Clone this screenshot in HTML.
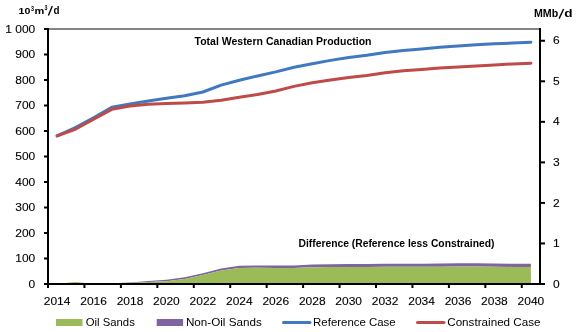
<!DOCTYPE html>
<html><head><meta charset="utf-8"><style>
html,body{margin:0;padding:0;background:#fff;width:580px;height:332px;overflow:hidden}
svg{display:block;will-change:transform}
text{font-family:"Liberation Sans", sans-serif;fill:#000}
.ax{font-size:12px;stroke:#000;stroke-width:0.12px}
.lg{font-size:12px}
.ut{font-size:10px;font-weight:bold}
.sup{font-size:7px;font-weight:bold}
.ut2{font-size:9.8px;font-weight:bold}
.tt{font-size:10.3px;font-weight:bold}
</style></head><body>
<svg width="580" height="332" viewBox="0 0 580 332">
<polygon points="57.11,284.00 75.33,281.96 93.56,283.75 111.78,283.24 130.00,282.47 148.22,280.94 166.44,279.67 184.67,277.37 202.89,273.29 221.11,268.44 239.33,265.64 257.56,265.38 275.78,265.38 294.00,265.38 312.22,264.62 330.44,264.37 348.67,264.11 366.89,264.11 385.11,263.86 403.33,263.86 421.56,263.86 439.78,263.60 458.00,263.35 476.22,263.35 494.44,263.60 512.67,263.86 530.89,263.86 530.89,266.92 512.67,266.92 494.44,266.66 476.22,266.40 458.00,266.40 439.78,266.66 421.56,266.66 403.33,266.66 385.11,266.66 366.89,266.92 348.67,266.92 330.44,266.92 312.22,267.17 294.00,267.94 275.78,267.94 257.56,267.68 239.33,267.94 221.11,270.49 202.89,275.07 184.67,278.90 166.44,281.19 148.22,281.96 130.00,282.98 111.78,283.49 93.56,283.75 75.33,281.96 57.11,284.00" fill="#8064A2"/>
<polygon points="57.11,284.00 75.33,281.96 93.56,283.75 111.78,283.49 130.00,282.98 148.22,281.96 166.44,281.19 184.67,278.90 202.89,275.07 221.11,270.49 239.33,267.94 257.56,267.68 275.78,267.94 294.00,267.94 312.22,267.17 330.44,266.92 348.67,266.92 366.89,266.92 385.11,266.66 403.33,266.66 421.56,266.66 439.78,266.66 458.00,266.40 476.22,266.40 494.44,266.66 512.67,266.92 530.89,266.92 530.89,284.00 512.67,284.00 494.44,284.00 476.22,284.00 458.00,284.00 439.78,284.00 421.56,284.00 403.33,284.00 385.11,284.00 366.89,284.00 348.67,284.00 330.44,284.00 312.22,284.00 294.00,284.00 275.78,284.00 257.56,284.00 239.33,284.00 221.11,284.00 202.89,284.00 184.67,284.00 166.44,284.00 148.22,284.00 130.00,284.00 111.78,284.00 93.56,284.00 75.33,284.00 57.11,284.00" fill="#9BBB59"/>
<polyline points="57.11,135.84 75.33,127.69 93.56,117.74 111.78,107.28 130.00,103.97 148.22,100.91 166.44,98.36 184.67,95.81 202.89,91.99 221.11,85.10 239.33,80.25 257.56,75.92 275.78,71.84 294.00,67.25 312.22,63.68 330.44,60.37 348.67,57.56 366.89,55.26 385.11,52.46 403.33,50.42 421.56,48.89 439.78,47.36 458.00,46.09 476.22,44.81 494.44,43.79 512.67,43.03 530.89,42.26" fill="none" stroke="#4078C2" stroke-width="3" stroke-linejoin="round" stroke-linecap="round"/>
<polyline points="57.11,135.84 75.33,129.22 93.56,119.27 111.78,109.32 130.00,106.01 148.22,104.22 166.44,103.46 184.67,102.95 202.89,102.19 221.11,100.15 239.33,97.34 257.56,94.53 275.78,90.97 294.00,86.38 312.22,82.81 330.44,80.00 348.67,77.45 366.89,75.41 385.11,72.86 403.33,70.82 421.56,69.54 439.78,68.01 458.00,67.00 476.22,65.97 494.44,64.96 512.67,63.94 530.89,63.17" fill="none" stroke="#BE4B48" stroke-width="3" stroke-linejoin="round" stroke-linecap="round"/>
<line x1="48.0" y1="29.0" x2="540.0" y2="29.0" stroke="#5c5c5c" stroke-width="1.6"/>
<line x1="48.0" y1="28.0" x2="48.0" y2="285.0" stroke="#000" stroke-width="2"/>
<line x1="540.0" y1="28.0" x2="540.0" y2="285.0" stroke="#000" stroke-width="2"/>
<line x1="44.0" y1="284.0" x2="545.0" y2="284.0" stroke="#000" stroke-width="2"/>
<line x1="44.0" y1="284.00" x2="48.0" y2="284.00" stroke="#000" stroke-width="2"/>
<text transform="translate(35.3,287.60) scale(1,0.93)" text-anchor="end" class="ax">0</text>
<line x1="44.0" y1="258.50" x2="48.0" y2="258.50" stroke="#000" stroke-width="2"/>
<text transform="translate(35.3,262.10) scale(1,0.93)" text-anchor="end" class="ax">100</text>
<line x1="44.0" y1="233.00" x2="48.0" y2="233.00" stroke="#000" stroke-width="2"/>
<text transform="translate(35.3,236.60) scale(1,0.93)" text-anchor="end" class="ax">200</text>
<line x1="44.0" y1="207.50" x2="48.0" y2="207.50" stroke="#000" stroke-width="2"/>
<text transform="translate(35.3,211.10) scale(1,0.93)" text-anchor="end" class="ax">300</text>
<line x1="44.0" y1="182.00" x2="48.0" y2="182.00" stroke="#000" stroke-width="2"/>
<text transform="translate(35.3,185.60) scale(1,0.93)" text-anchor="end" class="ax">400</text>
<line x1="44.0" y1="156.50" x2="48.0" y2="156.50" stroke="#000" stroke-width="2"/>
<text transform="translate(35.3,160.10) scale(1,0.93)" text-anchor="end" class="ax">500</text>
<line x1="44.0" y1="131.00" x2="48.0" y2="131.00" stroke="#000" stroke-width="2"/>
<text transform="translate(35.3,134.60) scale(1,0.93)" text-anchor="end" class="ax">600</text>
<line x1="44.0" y1="105.50" x2="48.0" y2="105.50" stroke="#000" stroke-width="2"/>
<text transform="translate(35.3,109.10) scale(1,0.93)" text-anchor="end" class="ax">700</text>
<line x1="44.0" y1="80.00" x2="48.0" y2="80.00" stroke="#000" stroke-width="2"/>
<text transform="translate(35.3,83.60) scale(1,0.93)" text-anchor="end" class="ax">800</text>
<line x1="44.0" y1="54.50" x2="48.0" y2="54.50" stroke="#000" stroke-width="2"/>
<text transform="translate(35.3,58.10) scale(1,0.93)" text-anchor="end" class="ax">900</text>
<line x1="44.0" y1="29.00" x2="48.0" y2="29.00" stroke="#000" stroke-width="2"/>
<text transform="translate(35.3,32.60) scale(1,0.93)" text-anchor="end" class="ax">1 000</text>
<line x1="540.0" y1="284.00" x2="545.0" y2="284.00" stroke="#000" stroke-width="2"/>
<text transform="translate(553,287.60) scale(1,0.93)" class="ax">0</text>
<line x1="540.0" y1="243.46" x2="545.0" y2="243.46" stroke="#000" stroke-width="2"/>
<text transform="translate(553,247.06) scale(1,0.93)" class="ax">1</text>
<line x1="540.0" y1="202.92" x2="545.0" y2="202.92" stroke="#000" stroke-width="2"/>
<text transform="translate(553,206.52) scale(1,0.93)" class="ax">2</text>
<line x1="540.0" y1="162.37" x2="545.0" y2="162.37" stroke="#000" stroke-width="2"/>
<text transform="translate(553,165.97) scale(1,0.93)" class="ax">3</text>
<line x1="540.0" y1="121.83" x2="545.0" y2="121.83" stroke="#000" stroke-width="2"/>
<text transform="translate(553,125.43) scale(1,0.93)" class="ax">4</text>
<line x1="540.0" y1="81.29" x2="545.0" y2="81.29" stroke="#000" stroke-width="2"/>
<text transform="translate(553,84.89) scale(1,0.93)" class="ax">5</text>
<line x1="540.0" y1="40.75" x2="545.0" y2="40.75" stroke="#000" stroke-width="2"/>
<text transform="translate(553,44.35) scale(1,0.93)" class="ax">6</text>
<line x1="48.00" y1="284.0" x2="48.00" y2="288.0" stroke="#000" stroke-width="2"/>
<text transform="translate(57.11,305.2) scale(1,0.93)" text-anchor="middle" class="ax">2014</text>
<line x1="84.44" y1="284.0" x2="84.44" y2="288.0" stroke="#000" stroke-width="2"/>
<text transform="translate(93.56,305.2) scale(1,0.93)" text-anchor="middle" class="ax">2016</text>
<line x1="120.89" y1="284.0" x2="120.89" y2="288.0" stroke="#000" stroke-width="2"/>
<text transform="translate(130.00,305.2) scale(1,0.93)" text-anchor="middle" class="ax">2018</text>
<line x1="157.33" y1="284.0" x2="157.33" y2="288.0" stroke="#000" stroke-width="2"/>
<text transform="translate(166.44,305.2) scale(1,0.93)" text-anchor="middle" class="ax">2020</text>
<line x1="193.78" y1="284.0" x2="193.78" y2="288.0" stroke="#000" stroke-width="2"/>
<text transform="translate(202.89,305.2) scale(1,0.93)" text-anchor="middle" class="ax">2022</text>
<line x1="230.22" y1="284.0" x2="230.22" y2="288.0" stroke="#000" stroke-width="2"/>
<text transform="translate(239.33,305.2) scale(1,0.93)" text-anchor="middle" class="ax">2024</text>
<line x1="266.67" y1="284.0" x2="266.67" y2="288.0" stroke="#000" stroke-width="2"/>
<text transform="translate(275.78,305.2) scale(1,0.93)" text-anchor="middle" class="ax">2026</text>
<line x1="303.11" y1="284.0" x2="303.11" y2="288.0" stroke="#000" stroke-width="2"/>
<text transform="translate(312.22,305.2) scale(1,0.93)" text-anchor="middle" class="ax">2028</text>
<line x1="339.56" y1="284.0" x2="339.56" y2="288.0" stroke="#000" stroke-width="2"/>
<text transform="translate(348.67,305.2) scale(1,0.93)" text-anchor="middle" class="ax">2030</text>
<line x1="376.00" y1="284.0" x2="376.00" y2="288.0" stroke="#000" stroke-width="2"/>
<text transform="translate(385.11,305.2) scale(1,0.93)" text-anchor="middle" class="ax">2032</text>
<line x1="412.44" y1="284.0" x2="412.44" y2="288.0" stroke="#000" stroke-width="2"/>
<text transform="translate(421.56,305.2) scale(1,0.93)" text-anchor="middle" class="ax">2034</text>
<line x1="448.89" y1="284.0" x2="448.89" y2="288.0" stroke="#000" stroke-width="2"/>
<text transform="translate(458.00,305.2) scale(1,0.93)" text-anchor="middle" class="ax">2036</text>
<line x1="485.33" y1="284.0" x2="485.33" y2="288.0" stroke="#000" stroke-width="2"/>
<text transform="translate(494.44,305.2) scale(1,0.93)" text-anchor="middle" class="ax">2038</text>
<line x1="521.78" y1="284.0" x2="521.78" y2="288.0" stroke="#000" stroke-width="2"/>
<text transform="translate(530.89,305.2) scale(1,0.93)" text-anchor="middle" class="ax">2040</text>
<text x="18.5" y="13.9" class="ut2" textLength="11.8" lengthAdjust="spacingAndGlyphs">10</text>
<text x="30.9" y="10.5" class="sup" textLength="3.0" lengthAdjust="spacingAndGlyphs">3</text>
<text x="34.4" y="13.8" class="ut2" textLength="9.8" lengthAdjust="spacingAndGlyphs">m</text>
<text x="44.6" y="10.4" class="sup" textLength="3.0" lengthAdjust="spacingAndGlyphs">3</text>
<line x1="52.3" y1="6.0" x2="48.4" y2="15.5" stroke="#000" stroke-width="1.35"/>
<text x="53.6" y="13.8" class="ut" textLength="6.0" lengthAdjust="spacingAndGlyphs">d</text>
<text x="534" y="16.6" class="ut" textLength="24.2" lengthAdjust="spacingAndGlyphs">MMb</text>
<line x1="563.6" y1="9.0" x2="559.1" y2="18.6" stroke="#000" stroke-width="1.4"/>
<text x="564.3" y="16.6" class="ut" textLength="8.3" lengthAdjust="spacingAndGlyphs">d</text>
<text x="194.5" y="44.7" class="tt" textLength="177" lengthAdjust="spacingAndGlyphs">Total Western Canadian Production</text>
<text x="298.5" y="246.6" class="tt" textLength="196" lengthAdjust="spacingAndGlyphs">Difference (Reference less Constrained)</text>
<rect x="56" y="319" width="26.5" height="7" fill="#9BBB59"/>
<text transform="translate(85.7,326.2) scale(1,0.95)" x="0" y="0" class="lg" textLength="49.1" lengthAdjust="spacingAndGlyphs">Oil Sands</text>
<rect x="156.7" y="319" width="26.4" height="7" fill="#8064A2"/>
<text transform="translate(185.9,326.2) scale(1,0.95)" x="0" y="0" class="lg" textLength="75.9" lengthAdjust="spacingAndGlyphs">Non-Oil Sands</text>
<line x1="283.5" y1="322.5" x2="310" y2="322.5" stroke="#4078C2" stroke-width="3" stroke-linecap="round"/>
<text transform="translate(313.1,326.2) scale(1,0.95)" x="0" y="0" class="lg" textLength="82.6" lengthAdjust="spacingAndGlyphs">Reference Case</text>
<line x1="417.5" y1="322.5" x2="444" y2="322.5" stroke="#BE4B48" stroke-width="3" stroke-linecap="round"/>
<text transform="translate(447.2,326.2) scale(1,0.95)" x="0" y="0" class="lg" textLength="93.4" lengthAdjust="spacingAndGlyphs">Constrained Case</text>
</svg>
</body></html>
